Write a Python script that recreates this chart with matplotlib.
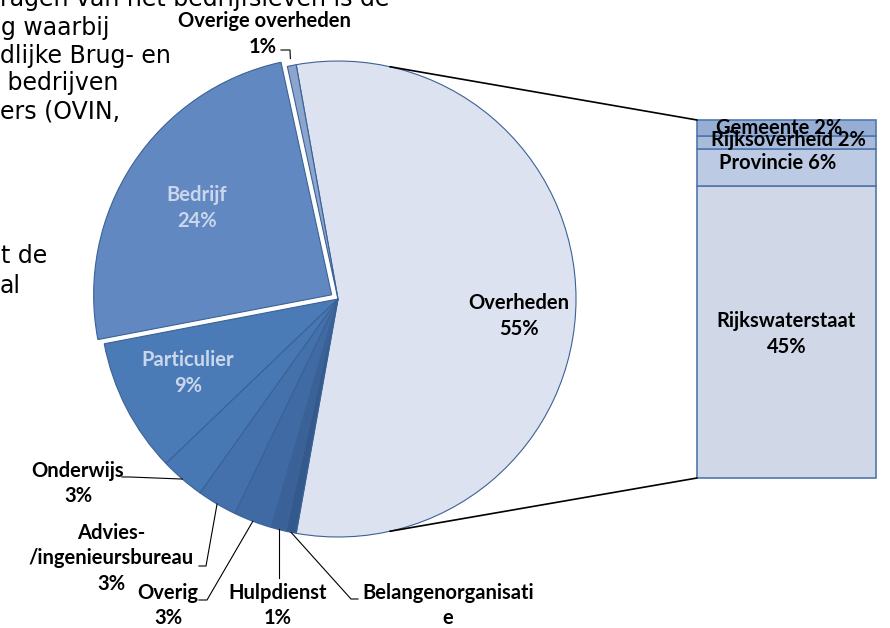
import numpy as np
import matplotlib
matplotlib.use("Agg")
import matplotlib.pyplot as plt
from matplotlib.patches import ConnectionPatch

# pie: shares (angles), plus the rounded labels shown
pie_names = ["Overheden", "Overige overheden", "Bedrijf", "Particulier", "Onderwijs",
             "Advies-\n/ingenieursbureau", "Overig", "Hulpdienst", "Belangenorganisati\ne"]
pie_values = [55.4, 0.6, 24.5, 9.1, 3.0, 2.7, 2.6, 1.0, 0.7]
pie_pct = ["55%", "1%", "24%", "9%", "3%", "3%", "3%", "1%", ""]
pie_colors = ["#DCE2EF", "#8CA5CE", "#6288C1", "#4A7BB7", "#4878B3",
              "#4471AC", "#3F6AA3", "#3A6299", "#34598C"]

# bar of pie (split of Overheden), bottom to top
bar_names = ["Rijkswaterstaat", "Provincie", "Rijksoverheid", "Gemeente"]
bar_values = [44.9, 5.7, 2.0, 2.4]
bar_pct = ["45%", "6%", "2%", "2%"]
bar_colors = ["#D0D8E8", "#BCCAE3", "#A9BBDB", "#97AED4"]

# partly hidden text box behind the chart
bg_lines = ["ragen van het bedrijfsleven is de", "g waarbij", "dlijke Brug- en",
            " bedrijven", "ers (OVIN,", "t de", "al"]

W, H = 890, 628
fig = plt.figure(figsize=(W / 100, H / 100), dpi=100)
ax = fig.add_axes([0, 0, 1, 1])
ax.set_xlim(0, W)
ax.set_ylim(0, H)

lbl = dict(family=["Lato", "DejaVu Sans"], fontweight="bold", fontsize=14.5)

# background text (baselines in pixels from the top)
bg_pos = [(0, 6), (1, 35), (0, 63), (0, 90), (0, 118), (1, 263), (0, 293)]
for s, (x, yb) in zip(bg_lines, bg_pos):
    ax.text(x, H - yb, s, fontsize=17, family="DejaVu Sans", va="baseline", ha="left", zorder=0)

cx, cy, r = 338, H - 299, 238
start = -180 * pie_values[0] / sum(pie_values)
# explode offset is in data units here (pixels)
explode = [0.032 * r if n == "Bedrijf" else 0 for n in pie_names]
wedges, _ = ax.pie(pie_values, colors=pie_colors, startangle=start, explode=explode,
                   center=(cx, cy), radius=r, frame=True,
                   wedgeprops=dict(edgecolor="#3B6296", linewidth=0.8))
ax.set_xlim(0, W)
ax.set_ylim(0, H)
ax.set_aspect("equal")
ax.axis("off")


def rim(i, k=1.0):
    w = wedges[i]
    a = np.deg2rad((w.theta1 + w.theta2) / 2)
    return cx + k * r * np.cos(a), cy + k * r * np.sin(a)


def stacked(x, y_top, lines, step=26, **kw):
    for j, s in enumerate(lines):
        ax.text(x, H - (y_top + j * step), s, ha="center", va="center", **kw)


# labels inside slices
stacked(519, 303, ["Overheden", "55%"], color="black", **lbl)
stacked(197, 195, ["Bedrijf", "24%"], color="#C9D6EC", **lbl)
stacked(188, 360, ["Particulier", "9%"], color="#C9D6EC", **lbl)

# outside labels with leader lines: (index, first line centre, line start, elbow)
outside = [
    (4, (78, 471), (122, 477), (130, 477)),
    (5, (111, 533), (199, 566), (206, 566)),
    (6, (168, 593), (199, 600), (207, 600)),
    (7, (278, 593), None, None),
    (8, (448, 593), (358, 599), (351, 599)),
]
for i, (tx, ty), p0, p1 in outside:
    lines = pie_names[i].split("\n") + ([pie_pct[i]] if pie_pct[i] else [])
    stacked(tx, ty, lines, step=25.5, **lbl)
    ex, ey = rim(i, 1.0)
    if p0 is None:
        ax.plot([ex, ex], [H - 578, ey], color="black", lw=0.8)
    else:
        ax.plot([p0[0], p1[0], ex], [H - p0[1], H - p1[1], ey], color="black", lw=0.8)

# Overige overheden: name above, percentage with leader
ax.text(264, H - 21, pie_names[1], ha="center", va="center", **lbl)
ax.text(263, H - 47, pie_pct[1], ha="center", va="center", **lbl)
ex, ey = rim(1, 1.03)
ax.plot([281, 290, ex], [H - 50, H - 50, ey], color="black", lw=0.8)

# bar of pie
bx0, bx1, by0, by1 = 697, 876, 478, 120
bax = fig.add_axes([bx0 / W, (H - by0) / H, (bx1 - bx0) / W, (by0 - by1) / H])
bottoms = np.concatenate([[0], np.cumsum(bar_values)[:-1]])
bars = bax.bar(0, bar_values, bottom=bottoms, width=1.0, color=bar_colors,
               edgecolor="#5077AD", linewidth=1.2, clip_on=False)
total = sum(bar_values)
bax.set_xlim(-0.5, 0.5)
bax.set_ylim(0, total)
bax.axis("off")

bar_lab_x = [0.0, -0.05, 0.01, -0.04]
bar_lab_dy = [0, 0.6, 0.3, -0.1]
for k, (n, p, b, v) in enumerate(zip(bar_names, bar_pct, bottoms, bar_values)):
    yc = b + v / 2 + bar_lab_dy[k]
    if k == 0:
        bax.text(bar_lab_x[k], yc + 1.7, n, ha="center", va="center", **lbl)
        bax.text(bar_lab_x[k], yc - 2.3, p, ha="center", va="center", **lbl)
    else:
        bax.text(bar_lab_x[k], yc, n + " " + p, ha="center", va="center", **lbl)

# connector lines from the Overheden slice to the bar
ang = np.deg2rad(77.4)
for sgn, yb in [(1, total), (-1, 0)]:
    con = ConnectionPatch(xyA=(cx + r * np.cos(ang), cy + sgn * r * np.sin(ang)), coordsA=ax.transData,
                          xyB=(-0.5, yb), coordsB=bax.transData, color="black", lw=1.2)
    fig.add_artist(con)

fig.savefig("out.png", dpi=100)
